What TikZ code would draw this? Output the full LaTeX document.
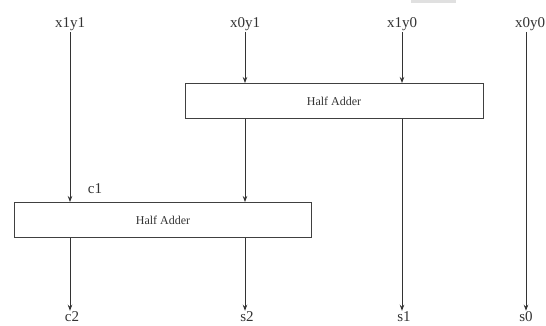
\documentclass[tikz,border=0pt]{standalone}
\usepackage{fontspec}
\setmainfont{Liberation Serif}
\usetikzlibrary{arrows.meta}
\begin{document}
\begin{tikzpicture}[x=1pt,y=-1pt,
  lbl/.style={font=\fontsize{15}{15}\selectfont, inner sep=1pt, text=black!80},
  hab/.style={draw=black!75, line width=1pt, minimum width=#1, minimum height=35pt, inner sep=0pt, font=\fontsize{12}{12}\selectfont, text=black!80},
  wire/.style={draw=black!80, line width=0.8pt, -{Stealth[length=6pt,width=4.5pt]}}]
\useasboundingbox (0,0) rectangle (546,326);
\clip (0,0) rectangle (546,326);
\fill[black!12] (411,0) rectangle (456,3);
% top labels
\node[lbl] (x1y1) at (70,24) {x1y1};
\node[lbl] (x0y1) at (245,24) {x0y1};
\node[lbl] (x1y0) at (402,24) {x1y0};
\node[lbl] (x0y0) at (530,24) {x0y0};
% half adders
\node[hab=298pt] (ha1) at (334,101) {Half Adder};
\node[hab=297pt] (ha2) at (163,220) {Half Adder};
% bottom labels
\node[lbl] (c2) at (72,317) {c2};
\node[lbl] (s2) at (247,317) {s2};
\node[lbl] (s1) at (404,317) {s1};
\node[lbl] (s0) at (526,317) {s0};
\node[lbl] (c1) at (95,189) {c1};
% wires
\draw[wire] (x1y1.south) -- (x1y1.south |- ha2.north);
\draw[wire] (x0y1.south) -- (x0y1.south |- ha1.north);
\draw[wire] (x1y0.south) -- (x1y0.south |- ha1.north);
\draw[wire] (ha1.south -| x0y1.south) -- (ha2.north -| x0y1.south);
\draw[wire] (ha1.south -| x1y0.south) -- (x1y0.south |- s1.north);
\draw[wire] (526,0 |- x0y0.south) -- (526,0 |- s0.north);
\draw[wire] (ha2.south -| x1y1.south) -- (x1y1.south |- c2.north);
\draw[wire] (ha2.south -| x0y1.south) -- (x0y1.south |- s2.north);
\end{tikzpicture}
\end{document}
